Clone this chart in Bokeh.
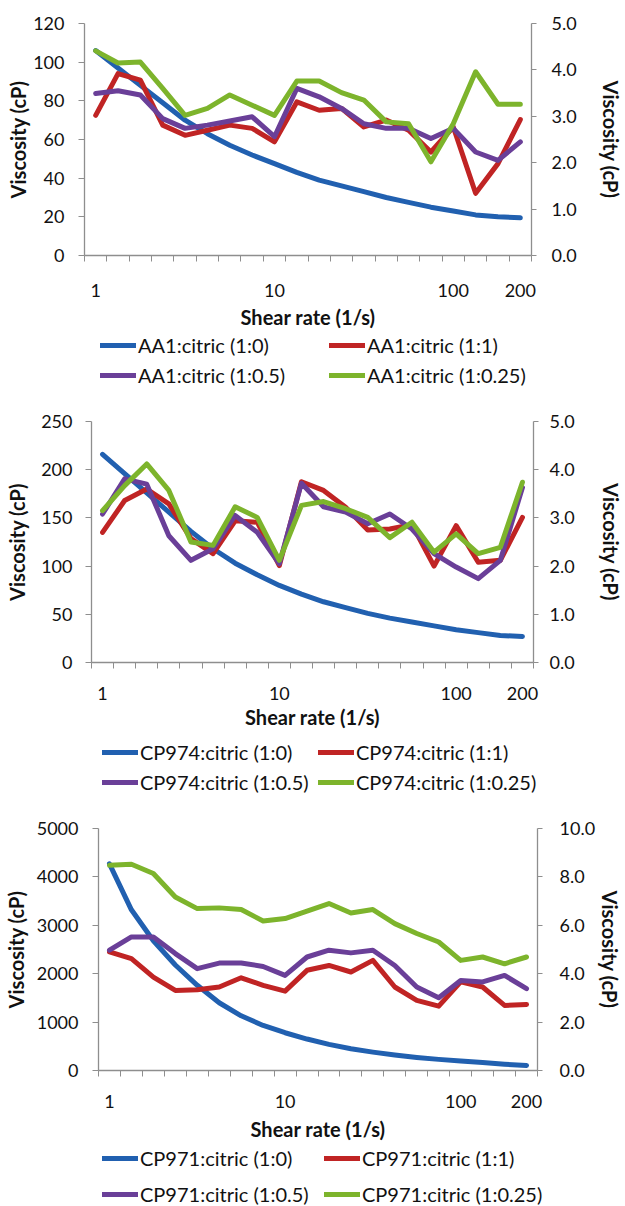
from bokeh.plotting import figure
from bokeh.models import (Range1d, LinearAxis, FixedTicker, NumeralTickFormatter, Legend,
                          LegendItem)
from bokeh.layouts import column
from bokeh.embed import file_html
from bokeh.resources import INLINE

# ---------------- data ----------------
shear_rate = [1, 1.33, 1.78, 2.37, 3.16, 4.22, 5.62, 7.5, 10, 13.3, 17.8, 23.7,
              31.6, 42.2, 56.2, 75, 100, 133, 178, 200]
tick_labels = {0: "1", 8: "10", 16: "100", 19: "200"}

aa1_series = ["AA1:citric (1:0)", "AA1:citric (1:1)", "AA1:citric (1:0.5)", "AA1:citric (1:0.25)"]
aa1_1_0 = [106, 97, 88, 79, 70, 63, 57, 52, 47.5, 43, 39, 36, 33, 30, 27.5, 25, 23, 21, 20, 19.5]
aa1_1_1 = [3.02, 3.92, 3.78, 2.81, 2.59, 2.70, 2.81, 2.74, 2.45, 3.31, 3.13, 3.17, 2.77, 2.92, 2.70, 2.23, 2.77, 1.34, 1.98, 2.93]
aa1_1_05 = [3.49, 3.55, 3.46, 2.95, 2.74, 2.81, 2.90, 2.99, 2.56, 3.60, 3.42, 3.17, 2.84, 2.74, 2.74, 2.52, 2.74, 2.23, 2.05, 2.45]
aa1_1_025 = [4.41, 4.15, 4.17, 3.60, 3.02, 3.17, 3.46, 3.24, 3.02, 3.76, 3.76, 3.51, 3.35, 2.88, 2.84, 2.02, 2.84, 3.96, 3.26, 3.26]

cp974_series = ["CP974:citric (1:0)", "CP974:citric (1:1)", "CP974:citric (1:0.5)", "CP974:citric (1:0.25)"]
cp974_1_0 = [216, 196, 176, 156, 136, 118, 103, 91, 80, 71, 63, 57, 51, 46, 42, 38, 34, 31, 28, 27]
cp974_1_1 = [2.70, 3.36, 3.60, 3.29, 2.57, 2.26, 2.94, 2.91, 2.01, 3.75, 3.57, 3.22, 2.75, 2.77, 2.86, 2.00, 2.84, 2.08, 2.12, 3.01]
cp974_1_05 = [3.08, 3.81, 3.70, 2.63, 2.12, 2.36, 3.05, 2.70, 2.05, 3.72, 3.23, 3.12, 2.88, 3.08, 2.77, 2.26, 1.98, 1.74, 2.12, 3.63]
cp974_1_025 = [3.15, 3.67, 4.12, 3.57, 2.50, 2.43, 3.23, 3.01, 2.12, 3.26, 3.34, 3.19, 3.01, 2.59, 2.91, 2.29, 2.67, 2.26, 2.39, 3.74]

cp971_series = ["CP971:citric (1:0)", "CP971:citric (1:1)", "CP971:citric (1:0.5)", "CP971:citric (1:0.25)"]
cp971_1_0 = [4270, 3320, 2680, 2180, 1760, 1400, 1130, 930, 780, 650, 540, 450, 380, 320, 270, 230, 195, 165, 130, 105]
cp971_1_1 = [4.90, 4.62, 3.86, 3.31, 3.34, 3.45, 3.83, 3.52, 3.28, 4.14, 4.34, 4.07, 4.55, 3.45, 2.90, 2.66, 3.66, 3.45, 2.69, 2.73]
cp971_1_05 = [4.97, 5.52, 5.52, 4.83, 4.21, 4.44, 4.44, 4.30, 3.93, 4.69, 4.97, 4.86, 4.97, 4.34, 3.45, 3.01, 3.72, 3.66, 3.93, 3.38]
cp971_1_025 = [8.48, 8.52, 8.14, 7.17, 6.69, 6.72, 6.65, 6.18, 6.28, 6.59, 6.90, 6.51, 6.65, 6.07, 5.66, 5.31, 4.55, 4.69, 4.41, 4.69]

left_ticks_1 = [0, 20, 40, 60, 80, 100, 120]
left_ticks_2 = [0, 50, 100, 150, 200, 250]
left_ticks_3 = [0, 1000, 2000, 3000, 4000, 5000]
right_ticks_1 = [0, 1, 2, 3, 4, 5]
right_ticks_2 = [0, 1, 2, 3, 4, 5]
right_ticks_3 = [0, 2, 4, 6, 8, 10]

y_title = "Viscosity (cP)"
x_title = "Shear rate (1/s)"

colors = ["#2160B0", "#C02424", "#6A3F98", "#7DB42C"]
FONT = "Lato"
AXIS_GRAY = "#8E8E8E"
TXT = "#111111"
W = 625

x_idx = list(range(len(shear_rate)))


def no_align(p):
    try:
        p.frame_align = False
    except Exception:
        pass


def chart(left_vals, right_vals_list, left_ticks, right_ticks,
          h, bl, br, bt, bb, lstand, ltitle_s, rstand, rtitle_s, xstand, xtitle_s):
    p = figure(width=W, height=h,
               min_border_left=bl, min_border_right=br, min_border_top=bt, min_border_bottom=bb,
               x_range=Range1d(-0.5, len(shear_rate) - 0.5),
               y_range=Range1d(left_ticks[0], left_ticks[-1]),
               output_backend="svg", toolbar_location=None, tools="")
    no_align(p)
    p.outline_line_color = None
    p.grid.visible = False
    p.background_fill_color = "white"
    p.border_fill_color = "white"
    p.extra_y_ranges = {"right": Range1d(right_ticks[0], right_ticks[-1])}

    xa = p.xaxis[0]
    xa.ticker = FixedTicker(ticks=list(tick_labels.keys()),
                            minor_ticks=[i - 0.5 for i in range(len(shear_rate) + 1)])
    xa.major_label_overrides = tick_labels
    xa.major_tick_out = 0
    xa.major_tick_in = 0
    xa.minor_tick_out = 6
    xa.minor_tick_in = 0
    xa.major_label_standoff = xstand
    xa.axis_label = x_title
    xa.axis_label_standoff = xtitle_s

    ya = p.yaxis[0]
    ya.ticker = FixedTicker(ticks=left_ticks)
    ya.major_tick_out = 6
    ya.major_tick_in = 0
    ya.minor_tick_out = 0
    ya.minor_tick_in = 0
    ya.major_label_standoff = lstand
    ya.axis_label = y_title
    ya.axis_label_standoff = ltitle_s
    ya.axis_label_text_line_height = 1.0

    ra = LinearAxis(y_range_name="right", ticker=FixedTicker(ticks=right_ticks),
                    formatter=NumeralTickFormatter(format="0.0"))
    ra.major_tick_out = 5
    ra.major_tick_in = 0
    ra.minor_tick_out = 0
    ra.minor_tick_in = 0
    ra.major_label_standoff = rstand
    ra.axis_label = y_title
    ra.axis_label_standoff = rtitle_s
    ra.axis_label_text_line_height = 1.0
    p.add_layout(ra, "right")

    for ax in (xa, ya, ra):
        ax.axis_line_color = AXIS_GRAY
        ax.axis_line_width = 1.3
        ax.major_tick_line_color = AXIS_GRAY
        ax.minor_tick_line_color = AXIS_GRAY
        ax.major_label_text_font = FONT
        ax.major_label_text_font_size = "18px"
        ax.major_label_text_color = TXT
        ax.axis_label_text_font = FONT
        ax.axis_label_text_font_size = "20px"
        ax.axis_label_text_font_style = "bold"
        ax.axis_label_text_color = TXT

    p.line(x_idx, left_vals, line_color=colors[0], line_width=5,
           line_cap="round", line_join="round")
    for k, vals in enumerate(right_vals_list):
        p.line(x_idx, vals, y_range_name="right", line_color=colors[k + 1], line_width=5,
               line_cap="round", line_join="round")
    return p


def legend_fig(series_names, series_vals, h, bl, bb, label_w, pitch):
    # legend strip under the chart; its proxy lines hold the series but lie outside its view
    lf = figure(width=W, height=h, min_border_left=bl, min_border_right=0,
                min_border_top=0, min_border_bottom=bb,
                x_range=Range1d(-1000, -999), y_range=Range1d(-1000, -999),
                x_axis_type=None, y_axis_type=None,
                output_backend="svg", toolbar_location=None, tools="")
    no_align(lf)
    lf.outline_line_color = None
    lf.grid.visible = False
    lf.background_fill_color = "white"
    lf.border_fill_color = "white"
    rs = [lf.line(x_idx, vals, line_color=c, line_width=5, line_cap="round")
          for vals, c in zip(series_vals, colors)]
    items = [LegendItem(label=n, renderers=[r]) for n, r in zip(series_names, rs)]
    for row, loc in enumerate(("top_left", "bottom_left")):
        lg = Legend(items=items[2 * row:2 * row + 2], orientation="horizontal", location=loc,
                    glyph_width=36, glyph_height=24, label_height=24, label_width=label_w,
                    label_standoff=2, spacing=pitch - 38 - label_w, padding=0, margin=0,
                    label_text_font=FONT, label_text_font_size="20px", label_text_color=TXT,
                    border_line_color=None, background_fill_alpha=0)
        lf.add_layout(lg)
    return lf


c1 = chart(aa1_1_0, [aa1_1_1, aa1_1_05, aa1_1_025], left_ticks_1, right_ticks_1,
           h=333, bl=84, br=89, bt=23, bb=78, lstand=14, ltitle_s=0, rstand=15, rtitle_s=19,
           xstand=22, xtitle_s=5)
l1 = legend_fig(aa1_series, [aa1_1_0, aa1_1_1, aa1_1_05, aa1_1_025],
                h=65, bl=100, bb=11, label_w=186, pitch=229)

c2 = chart(cp974_1_0, [cp974_1_1, cp974_1_05, cp974_1_025], left_ticks_2, right_ticks_2,
           h=342, bl=91, br=91, bt=23, bb=78, lstand=13, ltitle_s=9, rstand=11, rtitle_s=21,
           xstand=18, xtitle_s=2)
l2 = legend_fig(cp974_series, [cp974_1_0, cp974_1_1, cp974_1_05, cp974_1_025],
                h=65, bl=102, bb=11, label_w=173, pitch=216)

c3 = chart(cp971_1_0, [cp971_1_1, cp971_1_05, cp971_1_025], left_ticks_3, right_ticks_3,
           h=341, bl=98, br=85, bt=23, bb=76, lstand=14, ltitle_s=6, rstand=17, rtitle_s=0,
           xstand=18, xtitle_s=6)
l3 = legend_fig(cp971_series, [cp971_1_0, cp971_1_1, cp971_1_05, cp971_1_025],
                h=60, bl=102, bb=0, label_w=179, pitch=222)

layout = column(c1, l1, c2, l2, c3, l3, spacing=0)
open("out.html", "w").write(file_html(layout, INLINE))
